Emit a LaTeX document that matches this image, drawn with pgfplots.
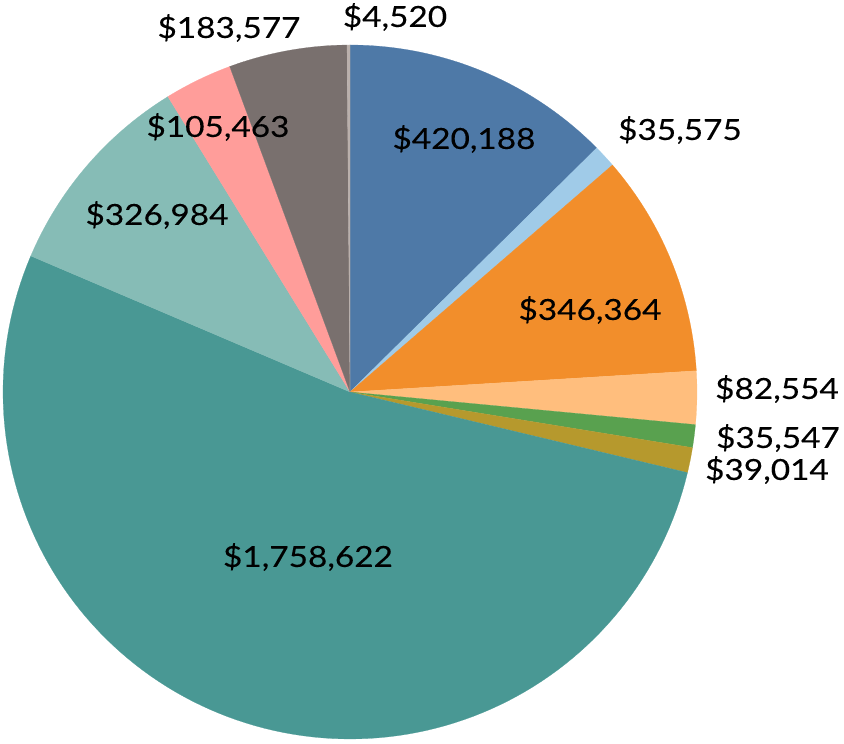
\documentclass[border=0pt]{standalone}
\usepackage{fontspec}
\setmainfont{Lato}[FakeStretch=1.15, FakeBold=0.25]
\usepackage{pgfplots}
\pgfplotsset{compat=1.18}
\definecolor{cBlue}{HTML}{4E79A7}
\definecolor{cLBlue}{HTML}{A0CBE8}
\definecolor{cOrange}{HTML}{F28E2B}
\definecolor{cLOrange}{HTML}{FFBE7D}
\definecolor{cGreen}{HTML}{59A14F}
\definecolor{cOlive}{HTML}{B6992D}
\definecolor{cTeal}{HTML}{499894}
\definecolor{cLTeal}{HTML}{86BCB6}
\definecolor{cPink}{HTML}{FF9D9A}
\definecolor{cBrown}{HTML}{79706E}
\definecolor{cGray}{HTML}{BAB0AC}
\edef\total{\fpeval{420188+35575+346364+82554+35547+39014+1758622+326984+105463+183577+4520}}
\gdef\cum{0}
\newcommand{\pieslice}[2]{%
  \xdef\sa{\fpeval{90-360*(\cum)/\total}}%
  \xdef\cum{\fpeval{\cum+#1}}%
  \xdef\ea{\fpeval{90-360*(\cum)/\total}}%
  \edef\doplot{\noexpand\addplot[fill=#2, draw=#2, line width=0.2pt, domain=\ea:\sa, samples=120, variable=\noexpand\t] ({347*cos(\noexpand\t)},{347*sin(\noexpand\t)}) -- (axis cs:0,0) -- cycle;}%
  \doplot
}
\newcommand{\lab}[3]{\node[font=\fontsize{29}{34}\selectfont, text=black, inner sep=0pt] at (axis cs:#1,#2) {#3};}
\begin{document}
\begin{tikzpicture}
\begin{axis}[hide axis, scale only axis, width=844pt, height=744pt,
  xmin=-350, xmax=494, ymin=-352, ymax=392, clip=false]
\pieslice{420188}{cBlue}
\pieslice{35575}{cLBlue}
\pieslice{346364}{cOrange}
\pieslice{82554}{cLOrange}
\pieslice{35547}{cGreen}
\pieslice{39014}{cOlive}
\pieslice{1758622}{cTeal}
\pieslice{326984}{cLTeal}
\pieslice{105463}{cPink}
\pieslice{183577}{cBrown}
\pieslice{4520}{cGray}
\lab{45}{375}{\$4,520}
\lab{-121}{364}{\$183,577}
\lab{-132}{265}{\$105,463}
\lab{114}{253}{\$420,188}
\lab{330}{262}{\$35,575}
\lab{-193}{177}{\$326,984}
\lab{240}{82}{\$346,364}
\lab{427}{3}{\$82,554}
\lab{428}{-46}{\$35,547}
\lab{417}{-78}{\$39,014}
\lab{-42}{-165}{\$1,758,622}
\end{axis}
\pgfresetboundingbox
\path[use as bounding box] (current axis.south west) rectangle (current axis.north east);
\end{tikzpicture}
\end{document}
